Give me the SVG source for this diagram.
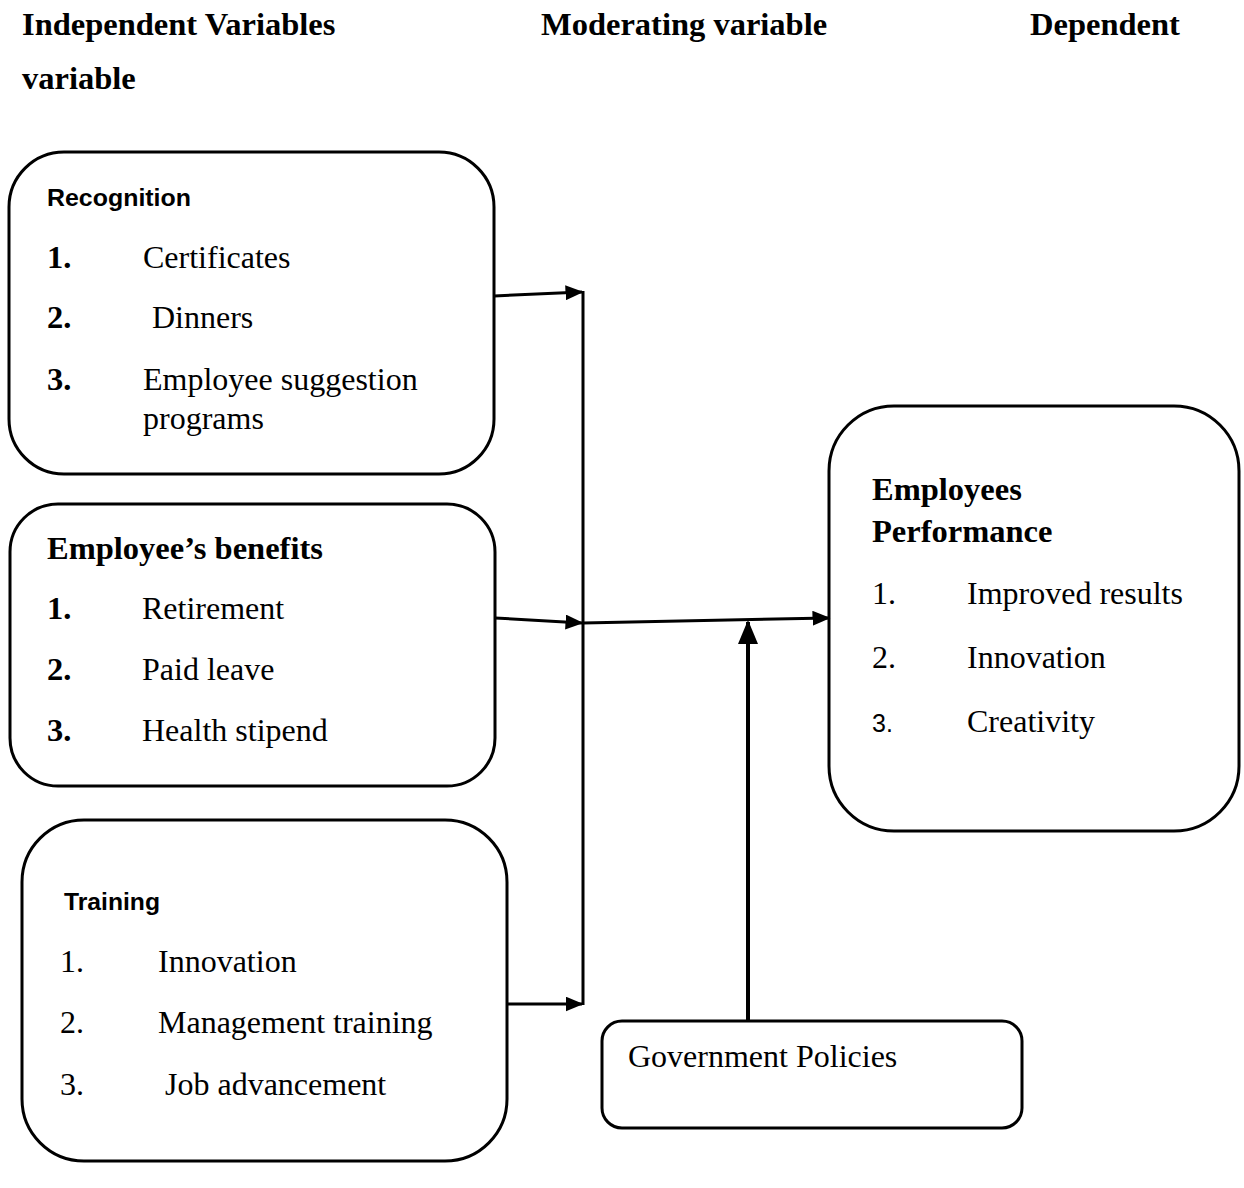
<svg xmlns="http://www.w3.org/2000/svg" width="1244" height="1188" viewBox="0 0 1244 1188">
<style>
.box{fill:#fff;stroke:#000;stroke-width:3}
.t{font-family:"Liberation Serif","Times New Roman",serif;font-size:32px;fill:#000}
.b{font-weight:bold;font-size:32.5px}
.s{font-family:"Liberation Sans",Arial,sans-serif;font-size:24px;font-weight:bold;fill:#000}
.ln{stroke:#000;stroke-width:3;fill:none}
</style>
<defs>
<marker id="ah" markerWidth="6" markerHeight="5" refX="5.5" refY="2.5" orient="auto" markerUnits="strokeWidth">
<path d="M0,0 L6,2.5 L0,5 z" fill="#000"/>
</marker>
</defs>
<rect width="1244" height="1188" fill="#fff"/>
<g id="headers">
<text class="t b" x="22" y="35">Independent Variables</text>
<text class="t b" x="541" y="35">Moderating variable</text>
<text class="t b" x="1030" y="35">Dependent</text>
<text class="t b" x="22" y="89">variable</text>
</g>
<g id="recognition">
<rect class="box" x="9" y="152" width="485" height="322" rx="55"/>
<text class="s" x="47" y="206" textLength="144" lengthAdjust="spacingAndGlyphs">Recognition</text>
<text class="t b" x="47" y="268">1.</text><text class="t" x="143" y="268">Certificates</text>
<text class="t b" x="47" y="328">2.</text><text class="t" x="152" y="328">Dinners</text>
<text class="t b" x="47" y="390">3.</text><text class="t" x="143" y="390">Employee suggestion</text>
<text class="t" x="143" y="429">programs</text>
</g>
<g id="benefits">
<rect class="box" x="10" y="504" width="485" height="282" rx="48"/>
<text class="t b" x="47" y="559">Employee’s benefits</text>
<text class="t b" x="47" y="619">1.</text><text class="t" x="142" y="619">Retirement</text>
<text class="t b" x="47" y="680">2.</text><text class="t" x="142" y="680">Paid leave</text>
<text class="t b" x="47" y="741">3.</text><text class="t" x="142" y="741">Health stipend</text>
</g>
<g id="training">
<rect class="box" x="22" y="820" width="485" height="341" rx="62"/>
<text class="s" x="64" y="910" textLength="96" lengthAdjust="spacingAndGlyphs">Training</text>
<text class="t" x="60" y="972">1.</text><text class="t" x="158" y="972">Innovation</text>
<text class="t" x="60" y="1033">2.</text><text class="t" x="158" y="1033">Management training</text>
<text class="t" x="60" y="1095">3.</text><text class="t" x="165" y="1095">Job advancement</text>
</g>
<g id="performance">
<rect class="box" x="829" y="406" width="410" height="425" rx="65"/>
<text class="t b" x="872" y="500">Employees</text>
<text class="t b" x="872" y="542">Performance</text>
<text class="t" x="872" y="604">1.</text><text class="t" x="967" y="604">Improved results</text>
<text class="t" x="872" y="668">2.</text><text class="t" x="967" y="668">Innovation</text>
<text class="s" x="872" y="732" style="font-weight:normal;font-size:25px">3.</text><text class="t" x="967" y="732">Creativity</text>
</g>
<g id="government">
<rect class="box" x="602" y="1021" width="420" height="107" rx="20"/>
<text class="t" x="628" y="1067">Government Policies</text>
</g>
<g id="connectors">
<line class="ln" x1="583" y1="291" x2="583" y2="1005"/>
<line class="ln" x1="494" y1="296" x2="582" y2="292" marker-end="url(#ah)"/>
<line class="ln" x1="495" y1="618" x2="582" y2="623" marker-end="url(#ah)"/>
<line class="ln" x1="507" y1="1004" x2="582" y2="1004" marker-end="url(#ah)"/>
<line class="ln" x1="583" y1="623" x2="829" y2="618" marker-end="url(#ah)"/>
<line class="ln" x1="748" y1="1021" x2="748" y2="622" style="stroke-width:4" marker-end="url(#ah)"/>
</g>
</svg>
